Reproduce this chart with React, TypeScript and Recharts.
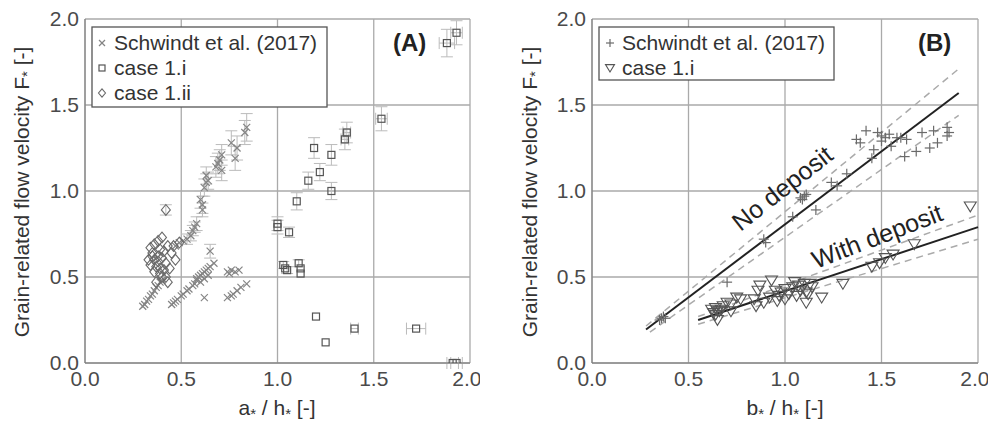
import { ScatterChart, Scatter, XAxis, YAxis, CartesianGrid, ErrorBar, ReferenceLine } from "recharts";

// [x, y, yError, xError]
const schwindtA: number[][] = [
  [0.53, 0.72, 0.03], [0.55, 0.74, 0.03], [0.56, 0.77, 0.03], [0.57, 0.79, 0.03], [0.58, 0.81, 0.04],
  [0.60, 0.95, 0.05], [0.61, 0.92, 0.05], [0.61, 0.89, 0.04], [0.62, 1.02, 0.05], [0.63, 1.05, 0.05],
  [0.64, 1.06, 0.05], [0.63, 1.09, 0.05], [0.68, 1.14, 0.06], [0.69, 1.16, 0.06], [0.70, 1.18, 0.06],
  [0.71, 1.21, 0.06], [0.71, 1.12, 0.06], [0.76, 1.28, 0.07], [0.79, 1.25, 0.07], [0.78, 1.19, 0.07],
  [0.83, 1.34, 0.07], [0.84, 1.37, 0.08], [0.47, 0.68], [0.49, 0.70], [0.51, 0.71],
  [0.30, 0.33], [0.31, 0.34], [0.32, 0.36], [0.33, 0.37], [0.34, 0.39], [0.35, 0.40], [0.36, 0.42],
  [0.37, 0.44], [0.38, 0.45], [0.39, 0.47], [0.40, 0.48],
  [0.45, 0.34], [0.46, 0.35], [0.47, 0.36], [0.48, 0.37], [0.50, 0.39], [0.51, 0.40], [0.53, 0.42],
  [0.54, 0.43], [0.56, 0.45], [0.57, 0.46], [0.58, 0.48], [0.58, 0.49], [0.59, 0.50], [0.60, 0.51],
  [0.61, 0.52], [0.62, 0.53], [0.63, 0.54], [0.64, 0.55], [0.65, 0.56], [0.67, 0.58], [0.65, 0.65, 0.04],
  [0.62, 0.38], [0.60, 0.47], [0.62, 0.49], [0.64, 0.51],
  [0.74, 0.53], [0.76, 0.54], [0.78, 0.53], [0.80, 0.54], [0.75, 0.52],
  [0.74, 0.38], [0.76, 0.39], [0.77, 0.40], [0.79, 0.42], [0.81, 0.44], [0.84, 0.46],
];

const case1iA: number[][] = [
  [1.93, 1.92, 0.07, 0.03], [1.88, 1.86, 0.08, 0.04], [1.54, 1.42, 0.07, 0.03], [1.36, 1.34, 0.06, 0.02],
  [1.35, 1.30, 0.06, 0.02], [1.19, 1.25, 0.06], [1.28, 1.21, 0.06], [1.22, 1.11, 0.05], [1.16, 1.06, 0.05],
  [1.28, 1.00, 0.05], [1.10, 0.94, 0.05], [1.00, 0.81, 0.04], [1.00, 0.79, 0.04], [1.06, 0.76, 0.03],
  [1.03, 0.57, 0.02], [1.05, 0.54, 0.02], [1.04, 0.55], [1.11, 0.58, 0.02], [1.12, 0.55], [1.12, 0.52],
  [1.20, 0.27], [1.25, 0.12], [1.40, 0.20, 0, 0.02], [1.72, 0.20, 0, 0.05], [1.91, 0.0, 0, 0.03], [1.93, 0.0, 0, 0.03],
];

const case1iiA: number[][] = [
  [0.42, 0.89, 0.03], [0.34, 0.67], [0.36, 0.69], [0.40, 0.73], [0.38, 0.71], [0.33, 0.60], [0.35, 0.62],
  [0.38, 0.62], [0.41, 0.65], [0.45, 0.64], [0.47, 0.60], [0.39, 0.55], [0.36, 0.53], [0.40, 0.50],
  [0.43, 0.47], [0.37, 0.47], [0.35, 0.64], [0.39, 0.66], [0.42, 0.58], [0.38, 0.59], [0.41, 0.54],
  [0.34, 0.57], [0.37, 0.56], [0.44, 0.55], [0.40, 0.61], [0.36, 0.60], [0.43, 0.68], [0.46, 0.68],
  [0.49, 0.70], [0.39, 0.52], [0.42, 0.50],
];

const schwindtB: number[][] = [
  [0.35, 0.25], [0.36, 0.26], [0.37, 0.27], [0.38, 0.26], [0.70, 0.47], [0.89, 0.72], [0.90, 0.70],
  [1.04, 0.85], [1.08, 0.96], [1.09, 0.95], [1.10, 0.97], [1.11, 0.98], [1.16, 0.89], [1.24, 1.05],
  [1.27, 1.03], [1.32, 1.10], [1.37, 1.30], [1.39, 1.28], [1.42, 1.35], [1.46, 1.24], [1.45, 1.19],
  [1.48, 1.34], [1.50, 1.32], [1.50, 1.29], [1.54, 1.33], [1.55, 1.26], [1.58, 1.31], [1.63, 1.30],
  [1.62, 1.20], [1.68, 1.23], [1.71, 1.34], [1.75, 1.25], [1.77, 1.35], [1.79, 1.28], [1.84, 1.37],
  [1.85, 1.34], [1.84, 1.32], [1.52, 1.31], [1.60, 1.31],
];

const case1iB: number[][] = [
  [1.96, 0.91], [1.67, 0.69], [1.56, 0.63], [1.52, 0.61], [1.49, 0.58], [1.45, 0.56], [1.30, 0.46],
  [1.19, 0.38], [1.11, 0.35], [1.12, 0.40], [1.10, 0.46], [1.14, 0.44], [1.11, 0.41], [1.08, 0.42],
  [1.06, 0.39], [1.05, 0.47], [1.00, 0.43], [1.00, 0.37], [0.97, 0.39], [0.96, 0.36], [0.95, 0.42],
  [0.93, 0.48], [0.92, 0.38], [0.89, 0.35], [0.87, 0.45], [0.86, 0.42], [0.85, 0.33], [0.84, 0.37],
  [0.77, 0.37], [0.75, 0.38], [0.72, 0.34], [0.72, 0.30], [0.70, 0.35], [0.66, 0.30], [0.65, 0.25],
  [0.64, 0.32], [0.63, 0.29], [0.62, 0.31], [0.64, 0.28], [0.65, 0.30], [0.67, 0.31], [0.68, 0.33],
  [1.02, 0.40], [1.04, 0.44], [0.98, 0.41], [1.07, 0.45], [1.13, 0.46],
];

// fitted lines [[x1, y1], [x2, y2]]
const noDepositFit = [[0.28, 0.195], [1.9, 1.57]];
const noDepositUpper = [[0.28, 0.215], [1.9, 1.71]];
const noDepositLower = [[0.3, 0.18], [1.9, 1.44]];
const withDepositFit = [[0.55, 0.25], [2.0, 0.79]];
const withDepositUpper = [[0.55, 0.27], [2.0, 0.86]];
const withDepositLower = [[0.55, 0.225], [2.0, 0.72]];

const ticks = [0, 0.5, 1, 1.5, 2];

const FONT = "'Liberation Sans', Arial, sans-serif";

const toRows = (pts: number[][]) =>
  pts.map(([x, y, ey, ex]) => ({ x, y, ey: ey || undefined, ex: ex || undefined }));

const Cross = ({ cx, cy, r = 3.5 }: any) => (
  <g stroke="#858585" strokeWidth={1.2}>
    <line x1={cx - r} y1={cy - r} x2={cx + r} y2={cy + r} />
    <line x1={cx - r} y1={cy + r} x2={cx + r} y2={cy - r} />
  </g>
);
const Square = ({ cx, cy, r = 3.5 }: any) => (
  <rect x={cx - r} y={cy - r} width={2 * r} height={2 * r} fill="none" stroke="#555" strokeWidth={1.2} />
);
const Diamond = ({ cx, cy, r = 4.5 }: any) => (
  <path d={`M${cx},${cy - r * 1.2}L${cx + r},${cy}L${cx},${cy + r * 1.2}L${cx - r},${cy}Z`} fill="none" stroke="#6a6a6a" strokeWidth={1.1} />
);
const Plus = ({ cx, cy, r = 5 }: any) => (
  <g stroke="#6a6a6a" strokeWidth={1.2}>
    <line x1={cx - r} y1={cy} x2={cx + r} y2={cy} />
    <line x1={cx} y1={cy - r} x2={cx} y2={cy + r} />
  </g>
);
const TriDown = ({ cx, cy, r = 6 }: any) => (
  <path d={`M${cx - r},${cy - r * 0.75}L${cx + r},${cy - r * 0.75}L${cx},${cy + r * 0.9}Z`} fill="none" stroke="#555" strokeWidth={1.1} />
);

const fmt = (v: number) => v.toFixed(1);
const tickStyle = { fontSize: 21, fill: "#4a4a4a", fontFamily: FONT };

const seg = (p: number[][]) => [{ x: p[0][0], y: p[0][1] }, { x: p[1][0], y: p[1][1] }];

export default function App() {
  const h = 423;
  return (
    <div style={{ position: "absolute", left: 0, top: 0, width: 988, height: 423, background: "#fff", fontFamily: FONT }}>
      <div style={{ position: "absolute", left: 0, top: 0 }}>
        <ScatterChart width={480} height={h} margin={{ top: 19, right: 10, left: 25, bottom: 0 }}>
          <CartesianGrid stroke="#aaa" strokeWidth={1.3} />
          <XAxis type="number" dataKey="x" domain={[0, 2]} ticks={ticks} tickFormatter={fmt} tick={tickStyle}
            tickLine={false} axisLine={{ stroke: "#777" }} height={60} allowDataOverflow />
          <YAxis type="number" dataKey="y" domain={[0, 2]} ticks={ticks} tickFormatter={fmt} tick={tickStyle}
            tickLine={false} tickMargin={0} axisLine={{ stroke: "#777" }} width={60} allowDataOverflow />
          <Scatter data={toRows(schwindtA)} shape={<Cross />} isAnimationActive={false}>
            <ErrorBar dataKey="ey" direction="y" width={6} stroke="#bbb" strokeWidth={1} />
          </Scatter>
          <Scatter data={toRows(case1iA)} shape={<Square />} isAnimationActive={false}>
            <ErrorBar dataKey="ey" direction="y" width={6} stroke="#bbb" strokeWidth={1} />
            <ErrorBar dataKey="ex" direction="x" width={6} stroke="#bbb" strokeWidth={1} />
          </Scatter>
          <Scatter data={toRows(case1iiA)} shape={<Diamond />} isAnimationActive={false}>
            <ErrorBar dataKey="ey" direction="y" width={6} stroke="#bbb" strokeWidth={1} />
          </Scatter>
        </ScatterChart>
      </div>
      <div style={{ position: "absolute", left: 510, top: 0 }}>
        <ScatterChart width={478} height={h} margin={{ top: 19, right: 10, left: 22, bottom: 0 }}>
          <CartesianGrid stroke="#aaa" strokeWidth={1.3} />
          <XAxis type="number" dataKey="x" domain={[0, 2]} ticks={ticks} tickFormatter={fmt} tick={tickStyle}
            tickLine={false} axisLine={{ stroke: "#777" }} height={60} allowDataOverflow />
          <YAxis type="number" dataKey="y" domain={[0, 2]} ticks={ticks} tickFormatter={fmt} tick={tickStyle}
            tickLine={false} tickMargin={0} axisLine={{ stroke: "#777" }} width={60} allowDataOverflow />
          <Scatter data={toRows(schwindtB)} shape={<Plus />} isAnimationActive={false} />
          <Scatter data={toRows(case1iB)} shape={<TriDown />} isAnimationActive={false} />
          <ReferenceLine segment={seg(noDepositUpper)} stroke="#aaa" strokeWidth={1.5} strokeDasharray="7 5" />
          <ReferenceLine segment={seg(noDepositLower)} stroke="#aaa" strokeWidth={1.5} strokeDasharray="7 5" />
          <ReferenceLine segment={seg(withDepositUpper)} stroke="#aaa" strokeWidth={1.5} strokeDasharray="7 5" />
          <ReferenceLine segment={seg(withDepositLower)} stroke="#aaa" strokeWidth={1.5} strokeDasharray="7 5" />
          <ReferenceLine segment={seg(noDepositFit)} stroke="#222" strokeWidth={2} />
          <ReferenceLine segment={seg(withDepositFit)} stroke="#222" strokeWidth={2} />
        </ScatterChart>
      </div>

      {/* labels, legends, panel tags */}
      <svg width={988} height={423} style={{ position: "absolute", left: 0, top: 0, pointerEvents: "none" }} fontFamily={FONT}>
        <g fill="#333" fontSize={21}>
          <text transform="translate(21,192) rotate(-90)" textAnchor="middle" dominantBaseline="central">
            Grain-related flow velocity F<tspan fontSize={15} dy={5}>*</tspan><tspan dy={-5}> [-]</tspan>
          </text>
          <text transform="translate(529,192) rotate(-90)" textAnchor="middle" dominantBaseline="central">
            Grain-related flow velocity F<tspan fontSize={15} dy={5}>*</tspan><tspan dy={-5}> [-]</tspan>
          </text>
          <text x={277} y={415} textAnchor="middle">
            a<tspan fontSize={15} dy={4}>*</tspan><tspan dy={-4}> / h</tspan><tspan fontSize={15} dy={4}>*</tspan><tspan dy={-4}> [-]</tspan>
          </text>
          <text x={785} y={415} textAnchor="middle">
            b<tspan fontSize={15} dy={4}>*</tspan><tspan dy={-4}> / h</tspan><tspan fontSize={15} dy={4}>*</tspan><tspan dy={-4}> [-]</tspan>
          </text>
        </g>
        <g fontSize={24} fontWeight="bold" fill="#222">
          <text x={393} y={51}>(A)</text>
          <text x={918} y={51}>(B)</text>
        </g>

        <rect x={92} y={27} width={235} height={80} fill="#fff" stroke="#555" strokeWidth={1.3} />
        <Cross cx={102} cy={43} r={3} />
        <Square cx={102} cy={68} r={3} />
        <Diamond cx={102} cy={93} r={3.5} />
        <g fontSize={21} fill="#333">
          <text x={114} y={50}>Schwindt et al. (2017)</text>
          <text x={114} y={75}>case 1.i</text>
          <text x={114} y={100}>case 1.ii</text>
        </g>

        <rect x={599} y={27} width={235} height={53} fill="#fff" stroke="#555" strokeWidth={1.3} />
        <Plus cx={610} cy={43} r={4} />
        <TriDown cx={610} cy={68} r={4.5} />
        <g fontSize={21} fill="#333">
          <text x={622} y={50}>Schwindt et al. (2017)</text>
          <text x={622} y={75}>case 1.i</text>
        </g>

        <g fontSize={25} fill="#222">
          <text transform="translate(782,188) rotate(-38)" textAnchor="middle" dominantBaseline="central">No deposit</text>
          <text transform="translate(877,236) rotate(-21)" textAnchor="middle" dominantBaseline="central">With deposit</text>
        </g>
      </svg>
    </div>
  );
}
